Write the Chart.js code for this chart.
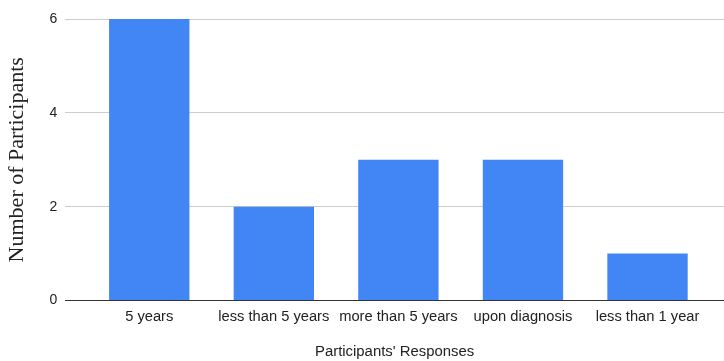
<!DOCTYPE html>
<html>
<head>
<meta charset="utf-8">
<script src="https://cdn.jsdelivr.net/npm/chart.js@4/dist/chart.umd.min.js"></script>
<style>
  html, body { margin: 0; padding: 0; background: #ffffff; }
  #wrap { position: relative; width: 724px; height: 361px; }
</style>
</head>
<body>
<div id="wrap"><canvas id="chart"></canvas></div>
<script>
// Responses and how many participants gave each one
const categories = ['5 years', 'less than 5 years', 'more than 5 years', 'upon diagnosis', 'less than 1 year'];
const participants = [6, 2, 3, 3, 1];
const yTicks = [0, 2, 4, 6];

const points = categories.map((c, i) => ({ x: i, y: participants[i] }));

new Chart(document.getElementById('chart'), {
  type: 'bar',
  data: {
    datasets: [{
      data: points,
      backgroundColor: '#4285F4',
      borderWidth: 0,
      categoryPercentage: 1,
      barPercentage: 0.645
    }]
  },
  options: {
    responsive: true,
    maintainAspectRatio: false,
    animation: false,
    layout: { padding: { top: 19, left: 4, right: 0, bottom: 0 } },
    plugins: { legend: { display: false }, tooltip: { enabled: false } },
    scales: {
      x: {
        type: 'linear',
        offset: false,
        min: -0.675,
        max: 4.614,
        afterBuildTicks: (scale) => { scale.ticks = categories.map((_, i) => ({ value: i })); },
        ticks: {
          callback: (v) => categories[v],
          color: '#222',
          font: { family: 'Liberation Sans, Arial, sans-serif', size: 14.7 },
          padding: 8,
          maxRotation: 0,
          autoSkip: false
        },
        grid: { display: false, drawTicks: false, offset: false },
        border: { display: true, color: '#333333', width: 1 },
        title: {
          display: true,
          text: "Participants' Responses",
          color: '#222',
          font: { family: 'Liberation Sans, Arial, sans-serif', size: 14.9 },
          padding: { top: 9, bottom: 0 }
        }
      },
      y: {
        type: 'linear',
        min: 0,
        max: 6,
        afterBuildTicks: (scale) => { scale.ticks = yTicks.map(v => ({ value: v })); },
        ticks: {
          color: '#222',
          font: { family: 'Liberation Sans, Arial, sans-serif', size: 14 },
          padding: 8
        },
        grid: { color: '#cccccc', lineWidth: 1, drawTicks: false },
        border: { display: false },
        title: {
          display: true,
          text: 'Number of Participants',
          color: '#222',
          font: { family: 'Liberation Serif, Times New Roman, serif', size: 22 },
          padding: { top: 0, bottom: 11 }
        }
      }
    }
  }
});
</script>
</body>
</html>
